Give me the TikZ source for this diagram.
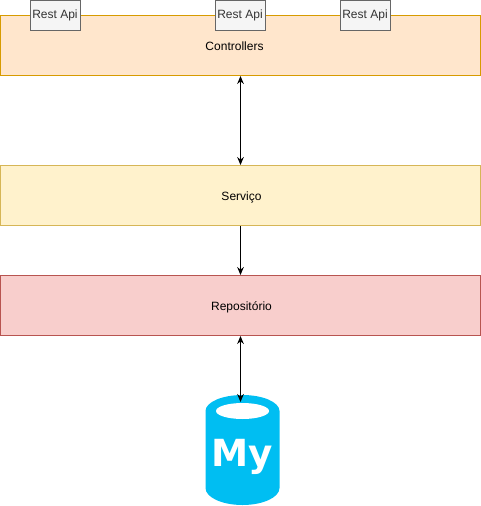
\documentclass[tikz,border=0pt]{standalone}
\usepackage{xcolor}
\usepackage{fontspec}
\setmainfont{Liberation Sans}
\newfontfamily\logofont{DejaVu Sans}
\usepackage{tikz}
\usetikzlibrary{positioning,arrows.meta}

\definecolor{ctrlfill}{HTML}{FFE6CC}
\definecolor{ctrldraw}{HTML}{D79B00}
\definecolor{servfill}{HTML}{FFF2CC}
\definecolor{servdraw}{HTML}{D6B656}
\definecolor{repofill}{HTML}{F8CECC}
\definecolor{repodraw}{HTML}{B85450}
\definecolor{apifill}{HTML}{F5F5F5}
\definecolor{apidraw}{HTML}{666666}
\definecolor{apitext}{HTML}{333333}
\definecolor{dbblue}{HTML}{00BEF2}

\tikzset{
	layerbox/.style={draw, line width=0.75pt, minimum width=360pt, minimum height=45pt, inner sep=0pt, text height=6.8pt, text depth=0pt, font=\fontsize{9}{11}\selectfont},
	apibox/.style={draw=apidraw, fill=apifill, text=apitext, line width=0.75pt, minimum width=37.5pt, minimum height=22.5pt, inner sep=0pt, font=\fontsize{9}{11}\selectfont},
	linkarrow/.style={>={Stealth[length=6pt,width=5pt]}, line width=0.75pt}
}

\begin{document}
\begin{tikzpicture}[x=0.75pt,y=-0.75pt]
	\useasboundingbox (0,0) rectangle (481,506);
	\node[layerbox, draw=ctrldraw, fill=ctrlfill] (ctrl) at (240.5,45.5) {};
	\node[font=\fontsize{9}{11}\selectfont, inner sep=0pt] (ctrllabel) at (234.5,46) {Controllers};
	\node[layerbox, draw=servdraw, fill=servfill] (serv) at (240.5,195.5) {\hspace*{1.5pt}Serviço};
	\node[layerbox, draw=repodraw, fill=repofill] (repo) at (240.5,305.5) {\hspace*{1.5pt}Repositório};
	\foreach \n/\x in {a/55,b/240,c/365}
	{
		\node[apibox] (api\n) at (\x,15.5) {Rest Api};
	}
	% banco de dados
	\fill[dbblue] (205.5,411) arc[x radius=37, y radius=16, start angle=180, end angle=360]
		-- (279.5,488) arc[x radius=37, y radius=17, start angle=0, end angle=180] -- cycle;
	\fill[white] (242.5,411) ellipse[x radius=26.5, y radius=8];
	\node[font=\logofont\bfseries\fontsize{28}{30}\selectfont, text=white, inner sep=0pt] (mysql) at (242.5,457) {My};
	\coordinate (dbtop) at (240.5,402);
	\draw[linkarrow, <->] (ctrl) -- (serv);
	\draw[linkarrow, ->] (serv) -- (repo);
	\draw[linkarrow, <->] (repo) -- (dbtop);
\end{tikzpicture}
\end{document}
